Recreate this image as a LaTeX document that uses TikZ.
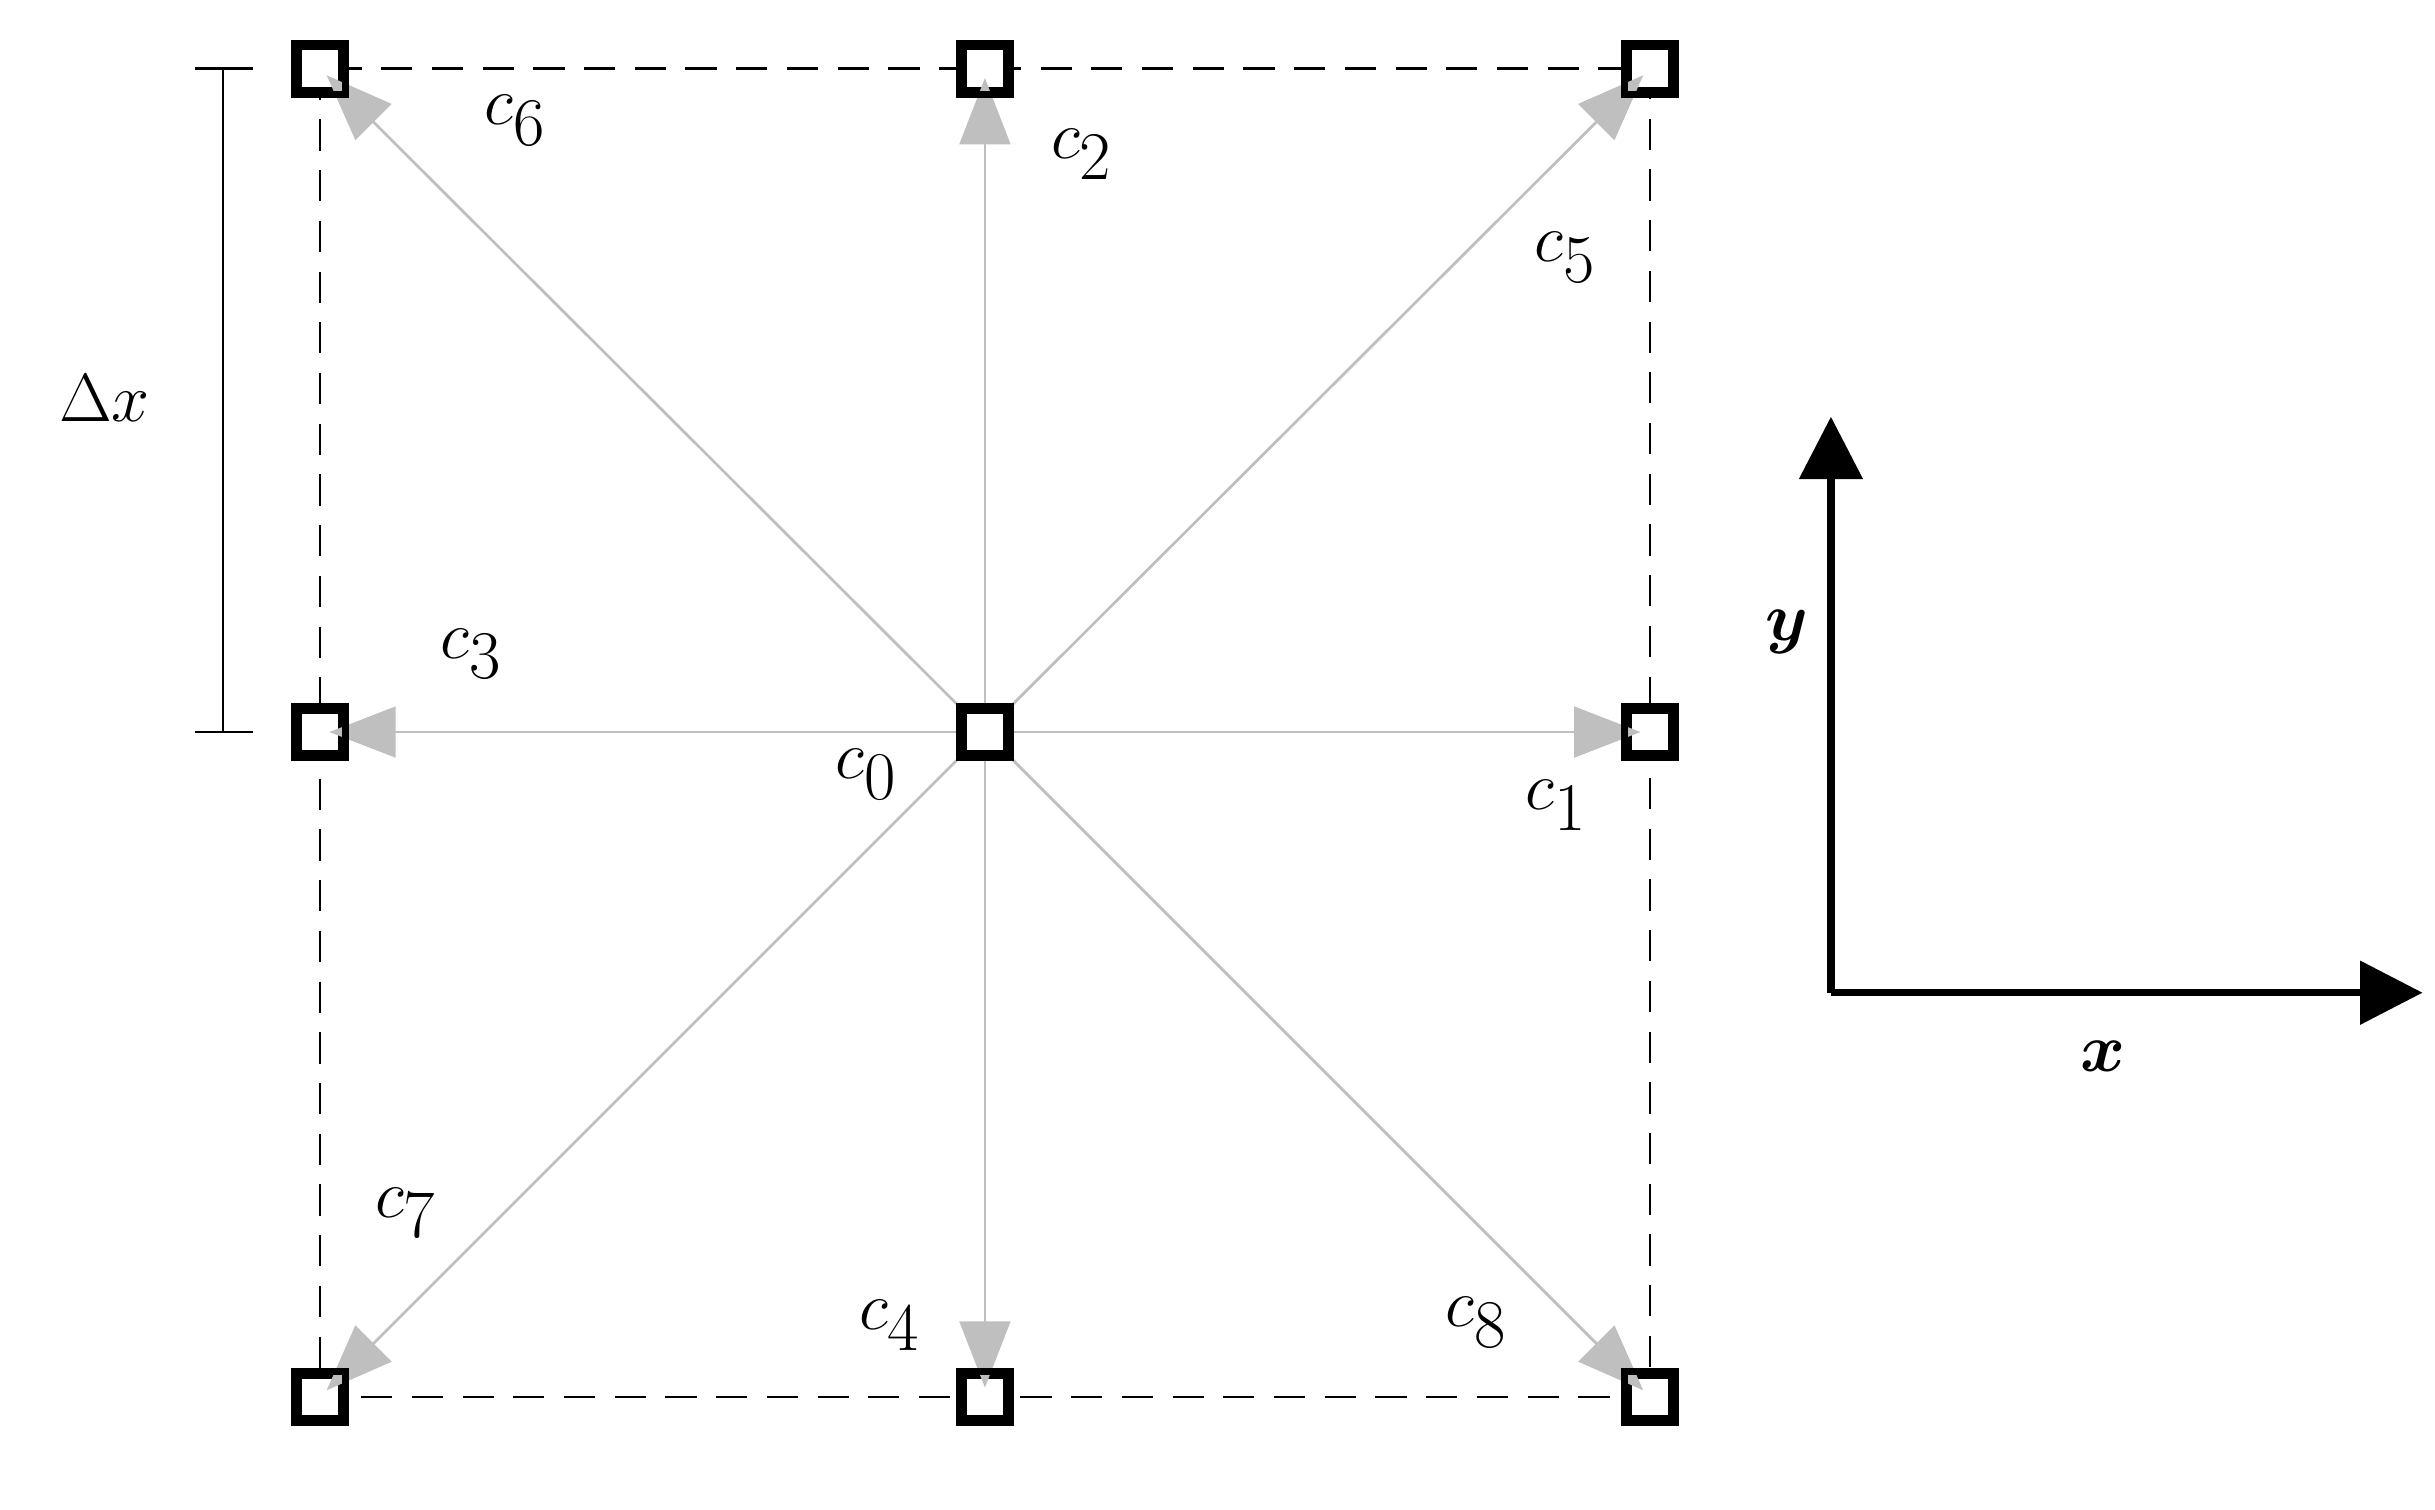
\documentclass[tikz,border=0pt]{standalone}
\usepackage{amsmath,bm}
\usetikzlibrary{arrows.meta}
\begin{document}
\begin{tikzpicture}[x=0.02cm,y=0.02cm,
  cell/.style={draw=black,line width=2.6pt,fill=white,minimum size=0.56cm,inner sep=0pt},
  vel/.style={draw=black!25,line width=1pt,-{Triangle[length=0.85cm,width=0.65cm]},shorten >=0.12cm},
  lab/.style={font=\fontsize{40}{44}\selectfont},
  axis/.style={line width=2.6pt,-{Triangle[length=0.8cm,width=0.8cm]}}]
\useasboundingbox (0,0) rectangle (1560,967);
\draw[dashed,line width=0.9pt,dash pattern=on 0.4cm off 0.25cm] (205,923) rectangle (1057,72);
\foreach \n/\x/\y in {c0/631/498,c1/1057/498,c2/631/923,c3/205/498,c4/631/72,c5/1057/923,c6/205/923,c7/205/72,c8/1057/72}
  \node[cell] (\n) at (\x,\y) {};
\foreach \n in {c1,c2,c3,c4,c5,c6,c7,c8}
  \draw[vel] (c0) -- (\n.center);
\foreach \n in {c0,c1,c2,c3,c4,c5,c6,c7,c8}
  \draw[line width=2.6pt] (\n.south west) rectangle (\n.north east);
\node[lab] at (330,890) {$c_6$};
\node[lab] at (693,868) {$c_2$};
\node[lab] at (1003,802) {$c_5$};
\node[lab] at (302,548) {$c_3$};
\node[lab] at (555,471) {$c_0$};
\node[lab] at (997,451) {$c_1$};
\node[lab] at (260,190) {$c_7$};
\node[lab] at (570,118) {$c_4$};
\node[lab] at (946,120) {$c_8$};
\coordinate (dt) at (143,923);
\coordinate (db) at (143,498);
\draw[line width=0.9pt] (dt) -- (db);
\draw[line width=0.9pt] (125,923) -- (162,923);
\draw[line width=0.9pt] (125,498) -- (162,498);
\node[font=\fontsize{38}{44}\selectfont] at (67,712) {$\Delta x$};
\coordinate (o) at (1173,331);
\coordinate (ya) at (1173,700);
\coordinate (xa) at (1552,331);
\draw[axis] (o) -- (ya);
\draw[axis] (o) -- (xa);
\node[font=\fontsize{30}{36}\selectfont] at (1145,562) {$\bm{y}$};
\node[font=\fontsize{30}{36}\selectfont] at (1347,290) {$\bm{x}$};
\end{tikzpicture}
\end{document}
